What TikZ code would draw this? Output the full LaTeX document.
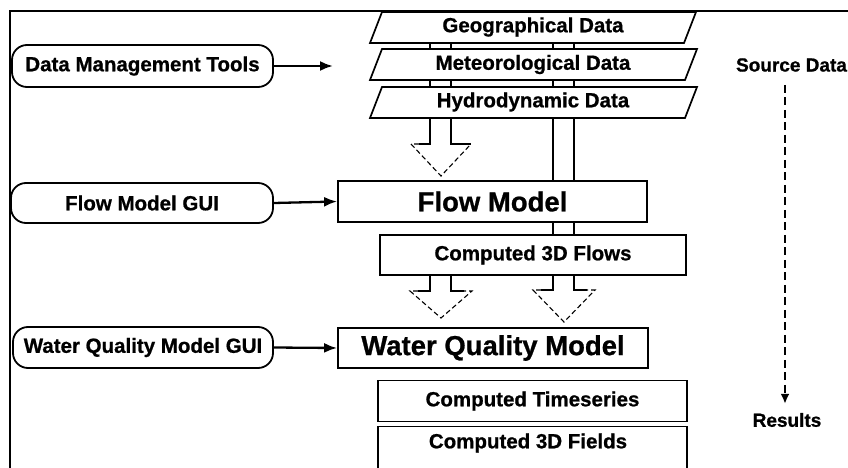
\documentclass[tikz,border=0pt]{standalone}
\usepackage{fontspec}
\setmainfont{Liberation Sans}
\newfontfamily\heavyfont[FakeBold=0.8]{Liberation Sans Bold}
\usetikzlibrary{arrows.meta}

\begin{document}
\begin{tikzpicture}[x=1pt,y=-1pt,
  txt/.style={font=\fontsize{20.5}{24}\selectfont\heavyfont, inner sep=0pt},
  bigtxt/.style={font=\fontsize{27.5}{32}\selectfont\heavyfont, inner sep=0pt},
  toolbox/.style={txt, draw, line width=1.8pt, rounded corners=15pt},
  modelbox/.style={bigtxt, draw, line width=1.8pt},
  databox/.style={txt, draw, line width=1.5pt},
  edge/.style={line width=1.7pt},
  feed/.style={line width=2.3pt, -{Latex[length=13pt,width=10pt]}},
  shaft/.style={line width=1.1pt},
  headline/.style={line width=1.1pt, dash pattern=on 5pt off 3pt},
  flowline/.style={line width=2.8pt, dash pattern=on 8pt off 4.5pt,
    -{Latex[length=10pt,width=9pt]}}]
\useasboundingbox (0,0) rectangle (848,468);
\fill[white] (0,0) rectangle (848,468);

% outer frame (left and top edges)
\draw[line width=2.6pt] (10,468) -- (10,11) -- (848,11);

% stack of source data sets
\draw[edge] (370,43) -- (382,12) -- (696,12) -- (684,43) -- cycle;
\draw[edge] (370,80) -- (382,49) -- (697,49) -- (685,80) -- cycle;
\draw[edge] (370,118) -- (382,87) -- (697,87) -- (685,118) -- cycle;
\node[txt] (geo) at (533,27) {Geographical Data};
\node[txt] (met) at (533,64.5) {Meteorological Data};
\node[txt] (hyd) at (533,102) {Hydrodynamic Data};

% tools and user interfaces
\node[toolbox, minimum width=261pt, minimum height=42pt] (dmt) at (142.5,66) {Data Management Tools};
\node[toolbox, minimum width=262pt, minimum height=40pt] (fgui) at (142,203) {Flow Model GUI};
\node[toolbox, minimum width=260pt, minimum height=41pt] (wgui) at (143,347.5) {Water Quality Model GUI};

% models
\node[modelbox, minimum width=309pt, minimum height=41pt] (flow) at (492.5,201.5) {Flow Model};
\node[modelbox, minimum width=310pt, minimum height=40pt] (wqm) at (493,348) {Water Quality Model};

% computed results
\node[databox, minimum width=306pt, minimum height=40pt] (flows) at (533,255) {Computed 3D Flows};
\node[databox, minimum width=309pt, minimum height=41pt] (ts) at (532.5,401) {Computed Timeseries};
\draw[line width=1.5pt] (378,470) -- (378,426.5) -- (687,426.5) -- (687,470);
\node[txt] (fields) at (528,443) {Computed 3D Fields};

% tool connectors
\coordinate (dmtend) at (333,66);
\draw[feed] (dmt.east) -- (dmtend);
\draw[feed] (fgui.east) -- (flow.west);
\draw[feed] (wgui.east) -- (wqm.west);

% hollow transfer arrows through the data stack
\foreach \x in {430,451,553,574} {
  \draw[shaft] (\x,43) -- (\x,49);
  \draw[shaft] (\x,80) -- (\x,87);
}
% sources -> flow model (left arrow)
\draw[shaft] (430,118) -- (430,144) -- (419,144);
\draw[shaft] (451,118) -- (451,144) -- (471,144);
\draw[headline] (419,144) -- (411,144) -- (441,176) -- (471,144);
% hydrodynamics -> flow model (right shaft)
\draw[shaft] (553,118) -- (553,181.5);
\draw[shaft] (574,118) -- (574,181.5);
\draw[shaft] (553,222) -- (553,235);
\draw[shaft] (574,222) -- (574,235);
% computed flows -> water quality model
\draw[shaft] (430,275) -- (430,291) -- (418,291);
\draw[shaft] (451,275) -- (451,291) -- (464,291);
\draw[headline] (418,291) -- (410,291) -- (441,318) -- (472,291) -- (464,291);
\draw[shaft] (553,275) -- (553,290) -- (541,290);
\draw[shaft] (574,275) -- (574,290) -- (587,290);
\draw[headline] (541,290) -- (533,290) -- (564,322) -- (595,290) -- (587,290);

% process direction
\node[txt, font=\fontsize{19}{22}\selectfont\heavyfont] (src) at (791.5,65) {Source Data};
\node[txt, font=\fontsize{19}{22}\selectfont\heavyfont] (res) at (787,420) {Results};
\draw[flowline] ([xshift=-6.5pt,yshift=-13pt]src.south) -- ([xshift=-2pt,yshift=9pt]res.north);
\end{tikzpicture}
\end{document}
